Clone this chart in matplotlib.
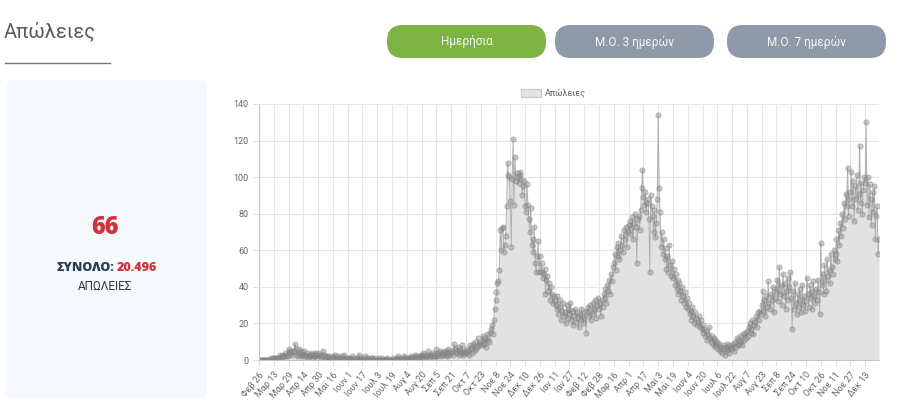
import numpy as np
import matplotlib.pyplot as plt
from matplotlib.patches import FancyBboxPatch, Rectangle

plt.rcParams['font.family'] = ['Roboto', 'DejaVu Sans']

title = "Απώλειες"
buttons = ["Ημερήσια", "Μ.Ο. 3 ημερών", "Μ.Ο. 7 ημερών"]
latest = "66"
total = "20.496"
series_name = "Απώλειες"

# one label every 16 days, starting 26 Feb 2020
tick_labels = ["Φεβ 26", "Μαρ 13", "Μαρ 29", "Απρ 14", "Απρ 30", "Μαϊ 16", "Ιουν 1",
               "Ιουν 17", "Ιουλ 3", "Ιουλ 19", "Αυγ 4", "Αυγ 20", "Σεπ 5", "Σεπ 21",
               "Οκτ 7", "Οκτ 23", "Νοε 8", "Νοε 24", "Δεκ 10", "Δεκ 26", "Ιαν 11",
               "Ιαν 27", "Φεβ 12", "Φεβ 28", "Μαρ 16", "Απρ 1", "Απρ 17", "Μαϊ 3",
               "Μαϊ 19", "Ιουν 4", "Ιουν 20", "Ιουλ 6", "Ιουλ 22", "Αυγ 7", "Αυγ 23",
               "Σεπ 8", "Σεπ 24", "Οκτ 10", "Οκτ 26", "Νοε 11", "Νοε 27", "Δεκ 13"]

# daily deaths, 16 values per row (one row per tick interval)
deaths = [
    0, 0, 0, 0, 0, 0, 0, 0, 0, 0, 0, 0, 0, 1, 0, 1,
    1, 1, 0, 1, 0, 1, 1, 3, 0, 2, 2, 2, 4, 2, 3, 2,
    5, 6, 4, 4, 3, 5, 5, 9, 6, 3, 2, 6, 4, 5, 3, 2,
    3, 5, 2, 2, 4, 1, 2, 3, 4, 3, 1, 2, 3, 4, 2, 3,
    4, 3, 2, 1, 2, 5, 3, 1, 2, 1, 2, 1, 2, 0, 1, 1,
    2, 1, 3, 1, 1, 0, 2, 1, 1, 0, 2, 1, 3, 1, 0, 1,
    0, 1, 1, 0, 0, 2, 0, 1, 0, 0, 1, 0, 3, 1, 0, 0,
    1, 0, 0, 2, 1, 0, 1, 0, 0, 1, 1, 0, 0, 0, 1, 0,
    0, 0, 1, 0, 0, 1, 0, 0, 0, 0, 1, 0, 0, 0, 0, 0,
    0, 1, 0, 0, 0, 1, 2, 0, 1, 0, 0, 0, 1, 2, 1, 0,
    1, 0, 1, 1, 0, 2, 1, 1, 0, 3, 1, 2, 1, 1, 2, 3,
    2, 1, 4, 2, 3, 1, 2, 5, 1, 3, 2, 4, 3, 1, 2, 3,
    6, 2, 4, 3, 5, 2, 4, 3, 5, 4, 3, 2, 5, 6, 3, 4,
    4, 5, 3, 9, 6, 5, 4, 7, 3, 5, 6, 4, 8, 3, 4, 5,
    6, 4, 5, 3, 8, 6, 4, 7, 9, 5, 10, 6, 7, 12, 8, 9,
    10, 8, 13, 11, 9, 12, 7, 14, 11, 10, 15, 17, 19, 14, 22, 28,
    33, 37, 42, 43, 49, 71, 60, 72, 73, 59, 63, 68, 84, 108, 101, 100,
    87, 62, 99, 121, 85, 111, 98, 102, 100, 97, 101, 103, 99, 90, 95, 98,
    84, 81, 96, 85, 77, 70, 83, 63, 66, 59, 73, 53, 48, 57, 65, 48,
    57, 48, 53, 45, 47, 50, 36, 44, 46, 38, 42, 33, 40, 36, 31, 35,
    32, 30, 28, 35, 25, 29, 33, 22, 27, 31, 24, 26, 20, 30, 23, 28,
    25, 31, 22, 27, 19, 24, 28, 21, 26, 23, 18, 25, 22, 28, 24, 20,
    23, 27, 15, 26, 29, 24, 30, 22, 25, 31, 27, 28, 33, 23, 30, 34,
    28, 31, 24, 33, 29, 36, 34, 39, 31, 41, 38, 44, 36, 47, 43, 51,
    53, 58, 49, 62, 57, 64, 55, 60, 68, 63, 59, 71, 66, 73, 62, 70,
    74, 69, 76, 72, 78, 66, 75, 80, 73, 53, 77, 79, 71, 82, 94, 104,
    89, 85, 92, 81, 86, 88, 77, 48, 90, 84, 79, 70, 82, 67, 75, 88,
    134, 94, 81, 62, 70, 58, 66, 55, 61, 50, 57, 48, 63, 52, 46, 54,
    45, 50, 41, 47, 39, 44, 36, 42, 38, 33, 40, 35, 31, 37, 29, 34,
    28, 31, 25, 27, 22, 29, 24, 20, 26, 23, 19, 21, 24, 18, 22, 17,
    19, 15, 17, 13, 16, 11, 14, 18, 12, 10, 13, 9, 12, 7, 11, 8,
    10, 6, 9, 5, 7, 4, 8, 6, 3, 7, 5, 9, 6, 4, 8, 7,
    6, 9, 5, 10, 7, 12, 8, 11, 9, 13, 10, 8, 14, 11, 15, 12,
    16, 13, 18, 20, 15, 17, 22, 14, 19, 21, 24, 18, 26, 22, 27, 25,
    30, 38, 27, 33, 24, 35, 29, 43, 31, 28, 36, 33, 40, 26, 34, 37,
    39, 44, 32, 51, 36, 41, 30, 47, 35, 42, 28, 38, 45, 33, 40, 48,
    34, 17, 38, 28, 42, 31, 25, 36, 29, 39, 33, 26, 41, 30, 35, 27,
    32, 45, 36, 29, 41, 34, 38, 28, 43, 35, 31, 39, 33, 44, 37, 25,
    64, 41, 47, 36, 52, 44, 38, 55, 46, 49, 42, 58, 51, 47, 60, 55,
    58, 66, 54, 71, 63, 75, 68, 80, 72, 86, 77, 91, 84, 105, 79, 88,
    92, 103, 84, 98, 76, 95, 88, 101, 82, 91, 117, 86, 97, 80, 93, 100,
    97, 130, 85, 100, 78, 96, 88, 74, 92, 81, 95, 66, 79, 84, 58, 66,
]

fig = plt.figure(figsize=(9, 4.2), dpi=100)

# pixel-space overlay for the page elements
bg = fig.add_axes([0, 0, 1, 1])
bg.set_xlim(0, 900)
bg.set_ylim(420, 0)
bg.axis('off')

bg.text(4, 31, title, fontsize=14.5, color="#5a5a5a", va="center")
bg.plot([5, 110], [63, 63], color="#777777", lw=1)

btn_x = [387, 555, 727]
btn_c = ["#7cb342", "#8e9aa7", "#8e9aa7"]
for bx, bc, bt in zip(btn_x, btn_c, buttons):
    bg.add_patch(FancyBboxPatch((bx, 25), 159, 33, boxstyle="round,pad=0,rounding_size=16",
                                fc=bc, ec="none"))
    bg.text(bx + 79.5, 42, bt, color="#f4f6f8", fontsize=8.5, ha="center", va="center")

bg.add_patch(FancyBboxPatch((6, 80), 201, 318, boxstyle="round,pad=0,rounding_size=6",
                            fc="#f5f8fc", ec="none"))
bg.text(105, 227, latest, color="#d0343a", fontsize=17, fontweight="heavy",
        ha="center", va="center", family=["Open Sans", "DejaVu Sans"])
bg.text(114, 268, "ΣΥΝΟΛΟ:", color="#2b3a55", fontsize=9, fontweight="heavy",
        ha="right", va="center", family=["Open Sans", "DejaVu Sans"])
bg.text(117, 268, total, color="#d0343a", fontsize=9, fontweight="heavy",
        ha="left", va="center", family=["Open Sans", "DejaVu Sans"])
bg.text(105, 287, "ΑΠΩΛΕΙΕΣ", color="#333333", fontsize=8.5, ha="center", va="center")

# legend
bg.add_patch(Rectangle((521, 89), 20, 8, fc="#e3e3e3", ec="#c8c8c8", lw=0.8))
bg.text(545, 93, series_name, color="#666666", fontsize=6.5, va="center")

# chart
ax = fig.add_axes([259 / 900, 1 - 360 / 420, 620 / 900, 256 / 420])
x = np.arange(len(deaths))
ax.fill_between(x, deaths, color="#e2e2e2", lw=0)
ax.plot(x, deaths, color="#b0b0b0", lw=0.7, marker="o", ms=3.8,
        mfc=(0.55, 0.55, 0.55, 0.45), mec=(0.5, 0.5, 0.5, 0.5), mew=0.6)
ax.set_xlim(0, len(deaths) - 1)
ax.set_ylim(0, 140)
ax.set_yticks(range(0, 141, 20))
ax.set_xticks(range(0, 16 * len(tick_labels), 16))
ax.set_xticklabels(tick_labels, rotation=50, ha="right", rotation_mode="anchor")
ax.grid(color="#e5e5e5", lw=0.8)
ax.set_axisbelow(True)
for s in ["top", "right"]:
    ax.spines[s].set_visible(False)
for s in ["left", "bottom"]:
    ax.spines[s].set_color("#c8c8c8")
ax.tick_params(colors="#e0e0e0", labelcolor="#666666", labelsize=6.5, length=4, width=0.8)

fig.savefig("out.png", dpi=100)
